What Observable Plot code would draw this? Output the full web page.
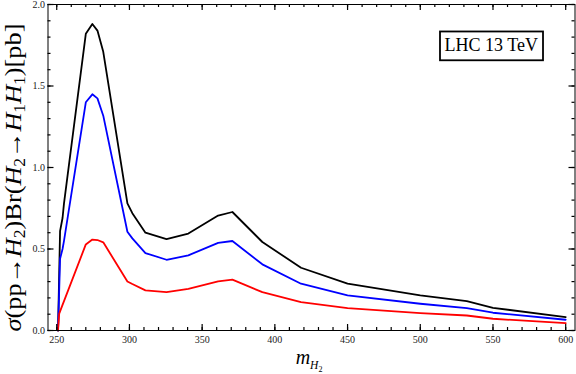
<!DOCTYPE html>
<html><head><meta charset="utf-8">
<script src="https://cdn.jsdelivr.net/npm/d3@7"></script>
<script src="https://cdn.jsdelivr.net/npm/@observablehq/plot@0.6"></script>
<style>
html,body{margin:0;padding:0;background:#fff;}
</style>
</head><body><div id="chart"></div>
<script>
// m_H2 values (GeV)
const mass = [250.9, 251.7, 252.3, 254, 255, 270, 274.5, 278, 282, 298.6, 302, 311, 325.5, 340.5, 361, 370.8, 391.4, 418, 450, 500, 532, 550, 600];
// sigma(pp->H2) Br(H2->H1H1) [pb]
const sigmaBlack = [0, 0.35, 0.61, 0.69, 0.78, 1.82, 1.88, 1.84, 1.71, 0.78, 0.72, 0.60, 0.56, 0.595, 0.705, 0.727, 0.543, 0.385, 0.287, 0.215, 0.180, 0.139, 0.082];
const sigmaBlue  = [0, 0.25, 0.44, 0.50, 0.55, 1.40, 1.449, 1.424, 1.318, 0.606, 0.565, 0.475, 0.434, 0.461, 0.538, 0.549, 0.406, 0.287, 0.215, 0.164, 0.137, 0.109, 0.066];
const sigmaRed   = [0, 0.103, 0.117, 0.157, 0.18, 0.528, 0.558, 0.555, 0.541, 0.301, 0.285, 0.246, 0.235, 0.256, 0.302, 0.312, 0.235, 0.174, 0.137, 0.106, 0.092, 0.072, 0.045];
const seriesNames = ["black", "blue", "red"];
const seriesColors = ["#000000", "#0000ff", "#ff0000"];
const xTicks = [250, 300, 350, 400, 450, 500, 550, 600];
const xMinorTicks = d3.range(250, 601, 10);
const yTicks = [0, 0.5, 1.0, 1.5, 2.0];
const yMinorTicks = d3.range(0, 21).map(i => i / 10);
const legendText = "LHC 13 TeV";

const seriesValues = [sigmaBlack, sigmaBlue, sigmaRed];
const rows = seriesNames.flatMap((s, k) => mass.map((m, i) => ({m, v: seriesValues[k][i], s})));

const serif = "Liberation Serif";
const W = 576, H = 374, ML = 47.5, MR = 1.5, MT = 4, MB = 44;
const FW = W - ML - MR, FH = H - MT - MB; // frame size in px
const MAJ = 6, MIN = 3; // tick lengths in px
const tk = {stroke: "#000", strokeWidth: 1.2};

const plot = Plot.plot({
  width: W, height: H,
  marginLeft: ML, marginRight: MR, marginTop: MT, marginBottom: MB,
  x: {domain: [244, 606.4]},
  y: {domain: [0, 2]},
  color: {domain: seriesNames, range: seriesColors},
  marks: [
    Plot.line(rows, {x: "m", y: "v", z: "s", stroke: "s", strokeWidth: 1.8, strokeLinejoin: "round"}),
    // inward ticks on all four sides
    Plot.ruleX(xTicks, {x: d => d, insetTop: FH - MAJ, ...tk}),
    Plot.ruleX(xMinorTicks, {x: d => d, insetTop: FH - MIN, ...tk}),
    Plot.ruleX(xTicks, {x: d => d, insetBottom: FH - MAJ, ...tk}),
    Plot.ruleX(xMinorTicks, {x: d => d, insetBottom: FH - MIN, ...tk}),
    Plot.ruleY(yTicks, {y: d => d, insetRight: FW - MAJ, ...tk}),
    Plot.ruleY(yMinorTicks, {y: d => d, insetRight: FW - MIN, ...tk}),
    Plot.ruleY(yTicks, {y: d => d, insetLeft: FW - MAJ, ...tk}),
    Plot.ruleY(yMinorTicks, {y: d => d, insetLeft: FW - MIN, ...tk}),
    Plot.frame({stroke: "#000", strokeWidth: 1}),
    // tick labels
    Plot.axisX(xTicks, {anchor: "bottom", tickSize: 0, tickPadding: 5, tickFormat: d => String(d), label: null, fill: "#222", fontFamily: serif, fontSize: 10}),
    Plot.axisY(yTicks, {anchor: "left", tickSize: 0, tickPadding: 3, tickFormat: d3.format(".1f"), label: null, fill: "#222", fontFamily: serif, fontSize: 10}),
    Plot.text([legendText], {frameAnchor: "top-right", dx: -83.7, dy: 33.5, fontSize: 18, fontFamily: serif, textAnchor: "middle", fill: "#000", text: d => d})
  ]
});

document.getElementById("chart").append(plot);
const svg = d3.select(plot);

// legend box around the label
const lt = svg.selectAll("text").filter(function() { return this.textContent === legendText; });
if (!lt.empty()) {
  const r = lt.node().getBoundingClientRect();
  const s = plot.getBoundingClientRect();
  svg.append("rect")
    .attr("x", r.left - s.left - 4.6).attr("y", r.top - s.top - 3.3)
    .attr("width", r.width + 9.6).attr("height", r.height + 8.8)
    .attr("fill", "none").attr("stroke", "#000").attr("stroke-width", 1.8);
}

// y axis title
const yt = svg.append("text").attr("font-family", serif).attr("font-size", 24)
  .attr("fill", "#000").attr("text-anchor", "middle");
const parts = [
  ["σ", "i"], ["(pp→", ""], ["H", "i"], ["2", "s"], [")Br(", ""], ["H", "i"], ["2", "s"],
  ["→", ""], ["H", "i"], ["1", "s"], ["H", "i"], ["1", "s"], [")[pb]", ""]
];
let sub = false;
for (const [t, k] of parts) {
  const ts = yt.append("tspan").text(t);
  if (k === "i") ts.attr("font-style", "italic");
  if (k === "s") { ts.attr("font-size", 16).attr("dy", sub ? 0 : 4); sub = true; }
  else if (sub) { ts.attr("dy", -4); sub = false; }
}
const ylen = yt.node().getComputedTextLength();
const ys = 308 / ylen;
yt.attr("transform", `translate(21,177.5) rotate(-90) scale(${ys},1)`);

// x axis title
const xt = svg.append("text").attr("font-family", serif).attr("fill", "#000")
  .attr("text-anchor", "middle").attr("transform", "translate(309,364)");
xt.append("tspan").attr("font-size", 20).attr("font-style", "italic").text("m");
xt.append("tspan").attr("font-size", 11.5).attr("font-style", "italic").attr("dy", 5).text("H");
xt.append("tspan").attr("font-size", 8).attr("dy", 2.7).text("2");
</script>
</body></html>
